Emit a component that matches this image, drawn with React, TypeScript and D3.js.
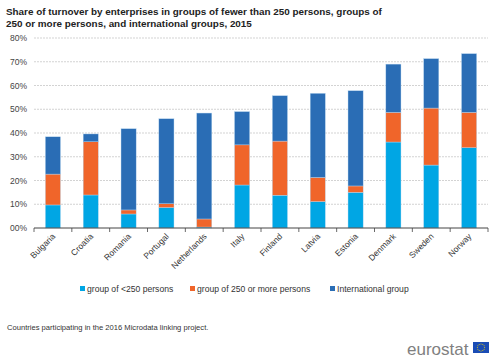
import React from 'react'
import * as d3 from 'd3'

const countries = ['Bulgaria', 'Croatia', 'Romania', 'Portugal', 'Netherlands', 'Italy', 'Finland', 'Latvia', 'Estonia', 'Denmark', 'Sweden', 'Norway']
const smallGroup = [9.7, 13.9, 5.9, 8.6, 0.4, 18.1, 13.8, 11.1, 15.0, 36.2, 26.5, 33.8]
const largeGroup = [13.0, 22.4, 1.7, 1.6, 3.4, 16.9, 22.8, 10.2, 2.7, 12.5, 24.0, 14.9]
const intlGroup = [15.7, 3.3, 34.2, 35.8, 44.6, 14.0, 19.1, 35.4, 40.1, 20.3, 20.8, 24.7]
const seriesNames = ['group of <250 persons', 'group of 250 or more persons', 'International  group']
const seriesColors = ['#00a6e4', '#f0652a', '#2a6db5']
const yTicks = [0, 10, 20, 30, 40, 50, 60, 70, 80]

const W = 500, H = 364
const margin = { left: 34, right: 12, top: 38, bottom: 136 }

export default function App() {
  const x = d3.scaleBand().domain(countries).range([margin.left, W - margin.right]).paddingInner(0.6).paddingOuter(0.3)
  const y = d3.scaleLinear().domain([0, 80]).range([H - margin.bottom, margin.top])

  const rows = countries.map((c, i) => ({ country: c, s0: smallGroup[i], s1: largeGroup[i], s2: intlGroup[i] }))
  const stacked = d3.stack<any>().keys(['s0', 's1', 's2'])(rows)
  const step = x.step()
  const x0 = margin.left
  const x1 = W - margin.right

  const legendX = [80, 190, 330]

  return (
    <svg width={W} height={H} style={{ position: 'absolute', left: 0, top: 0, fontFamily: 'Arial, "Liberation Sans", sans-serif' }}>
      <rect width={W} height={H} fill="#fff" />
      <text x={6} y={15} fontSize={9.9} fontWeight="bold" fill="#222">Share of turnover by enterprises in groups of fewer than 250 persons, groups of</text>
      <text x={6} y={27} fontSize={9.9} fontWeight="bold" fill="#222">250 or more persons, and international  groups, 2015</text>

      {yTicks.map(t => (
        <g key={t}>
          {t > 0 && <line x1={x0} x2={x1} y1={y(t)} y2={y(t)} stroke="#c8c8c8" strokeWidth={0.8} strokeDasharray="2,1" />}
          <text x={27} y={y(t) + 3} fontSize={8.5} textAnchor="end" fill="#444">{t === 0 ? '00%' : t + '%'}</text>
        </g>
      ))}

      {stacked.map((layer, li) => (
        <g key={li} fill={seriesColors[li]}>
          {layer.map((d, i) => (
            <rect key={i} x={x(countries[i])!} width={x.bandwidth()} y={y(d[1])} height={y(d[0]) - y(d[1])} stroke="#b9d7f0" strokeWidth={0.4} />
          ))}
        </g>
      ))}

      <line x1={x0} x2={x1} y1={y(0)} y2={y(0)} stroke="#444" strokeWidth={1} />
      {d3.range(countries.length + 1).map(i => (
        <line key={i} x1={x0 + i * step} x2={x0 + i * step} y1={y(0)} y2={y(0) + 4} stroke="#444" strokeWidth={0.8} />
      ))}
      {countries.map(c => {
        const cx = x(c)! + x.bandwidth() / 2 + 3
        const cy = y(0) + 9
        return (
          <text key={c} x={cx} y={cy} fontSize={8.5} fill="#333" textAnchor="end" transform={`rotate(-45 ${cx} ${cy})`}>{c}</text>
        )
      })}

      {seriesNames.map((n, i) => (
        <g key={n}>
          <rect x={legendX[i]} y={286} width={5} height={5} fill={seriesColors[i]} />
          <text x={legendX[i] + 7} y={292} fontSize={8.6} fill="#333">{n}</text>
        </g>
      ))}

      <text x={7} y={330} fontSize={7.6} fill="#333">Countries participating in the 2016 Microdata linking project.</text>

      <text x={407} y={355} fontSize={17} fill="#808080">eurostat</text>
      <rect x={473} y={342} width={16} height={11} fill="#1a4cb5" />
      {d3.range(12).map(k => {
        const a = (k / 12) * Math.PI * 2
        return <circle key={k} cx={481 + 3.6 * Math.cos(a)} cy={347.5 + 3.6 * Math.sin(a)} r={0.5} fill="#f5d800" />
      })}
    </svg>
  )
}
